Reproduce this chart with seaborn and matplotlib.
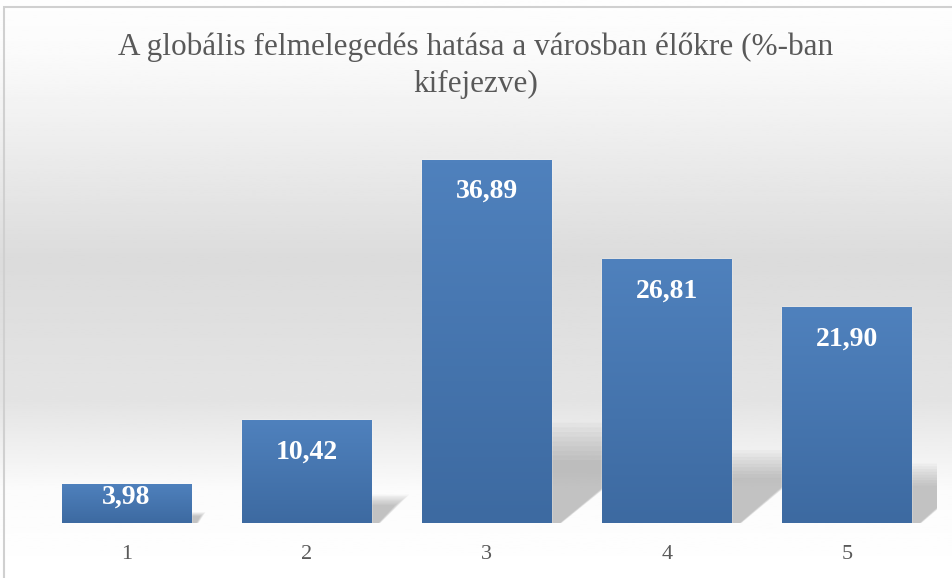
import numpy as np
import pandas as pd
import matplotlib.pyplot as plt
import seaborn as sns
from matplotlib.patches import Rectangle, Polygon
from matplotlib.colors import LinearSegmentedColormap

# --- Dados ---
categorias = ["1", "2", "3", "4", "5"]
valores = [3.98, 10.42, 36.89, 26.81, 21.90]
rotulos = ["3,98", "10,42", "36,89", "26,81", "21,90"]
titulo = "A globális felmelegedés hatása a városban élőkre (%-ban\nkifejezve)"

df = pd.DataFrame({"cat": categorias, "val": valores})

sns.set_style("white")
plt.rcParams['font.family'] = ['Liberation Serif', 'DejaVu Serif']

fig = plt.figure(figsize=(9.52, 5.78), dpi=100)

# fundo com gradiente (branco -> cinza -> branco)
bg = fig.add_axes([0, 0, 1, 1], zorder=0)
ys = np.linspace(0, 1, 300)
shade = np.interp(ys, [0, 0.10, 0.45, 0.70, 0.85, 1.0], [0.995, 0.98, 0.86, 0.895, 0.985, 1.0])
bg.imshow(shade[:, None], cmap='gray', vmin=0, vmax=1, aspect='auto',
          extent=[0, 1, 0, 1], origin='upper')
bg.set_xlim(0, 1)
bg.set_ylim(0, 1)
bg.axis('off')
bg.add_patch(Rectangle((0.004, -0.01), 1.01, 0.998, fill=False, edgecolor='#d0d0d0', lw=1.5,
                       transform=bg.transAxes))

ax = fig.add_axes([0.0383, 0.0952, 0.9459, 0.6817], zorder=1)
ax.patch.set_alpha(0)
sns.barplot(data=df, x="cat", y="val", color="#4a7ab5", width=0.717, ax=ax, saturation=1)
ax.set_xlim(-0.5, 4.5)
ax.set_ylim(0, 40)

# sombras (triângulo suave à direita) e gradiente das barras
cmap_bar = LinearSegmentedColormap.from_list("barra", ["#4f81bd", "#3d6aa1"])
grad = np.linspace(0, 1, 100)[:, None]
for p, v in zip(ax.patches, valores):
    x0, w = p.get_x(), p.get_width()
    xr = x0 + w
    for esc in np.linspace(0.75, 1.2, 9):
        h = 0.23 * v * esc
        d = h * 0.0733
        poly = Polygon([(xr - 0.01, -0.5), (xr - 0.01, h), (xr + d, h), (xr + 0.02 * esc, -0.5)],
                       closed=True, facecolor='#6a6a6a', edgecolor='none', alpha=0.05,
                       zorder=0.5)
        ax.add_patch(poly)
    p.set_zorder(2)
    im = ax.imshow(grad, cmap=cmap_bar, aspect='auto', extent=[x0, xr, 0, v],
                   origin='upper', zorder=2.1)
    im.set_clip_path(p)

# deslocamento dos rótulos (dentro do topo da barra)
desloc = [-10, -23, -23, -23, -23]
for i, (v, r) in enumerate(zip(valores, rotulos)):
    ax.annotate(r, (i, v), xytext=(0, desloc[i]), textcoords='offset points', ha='center',
                va='center', color='white', fontsize=20, fontweight='bold', zorder=3)

ax.set_xlim(-0.5, 4.5)
ax.set_ylim(0, 40)
ax.set_xlabel("")
ax.set_ylabel("")
ax.set_yticks([])
ax.tick_params(axis='x', length=0, pad=16, labelsize=16, labelcolor='#595959')
sns.despine(ax=ax, left=True, bottom=True)

fig.text(0.5, 0.886, titulo, ha='center', va='center', fontsize=22.5, color='#595959',
         linespacing=1.35)

fig.savefig("out.png", dpi=100)
